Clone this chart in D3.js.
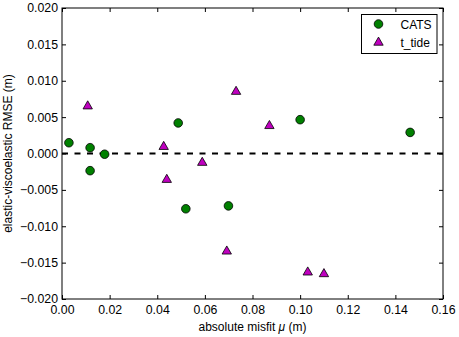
<!DOCTYPE html>
<html>
<head>
<meta charset="utf-8">
<script src="https://cdn.jsdelivr.net/npm/d3@7"></script>
<style>
  body { margin: 0; background: #fff; }
  text { font-family: "Liberation Sans", Arial, sans-serif; }
</style>
</head>
<body>
<script>
// CATS series (green circles)
var catsX = [0.0029, 0.0118, 0.0179, 0.0118, 0.0488, 0.0520, 0.0699, 0.1000, 0.1462];
var catsY = [0.00148, 0.0008, -0.0001, -0.00236, 0.0042, -0.0076, -0.0072, 0.00465, 0.0029];
// t_tide series (magenta triangles)
var tideX = [0.0108, 0.0427, 0.0589, 0.0440, 0.0692, 0.0731, 0.0871, 0.1032, 0.1100];
var tideY = [0.0065, 0.00093, -0.00126, -0.0036, -0.01345, 0.0085, 0.0038, -0.01633, -0.01656];
var xTicks = [0, 0.02, 0.04, 0.06, 0.08, 0.10, 0.12, 0.14, 0.16];
var yTicks = [-0.020, -0.015, -0.010, -0.005, 0, 0.005, 0.010, 0.015, 0.020];

var W = 459, H = 337;
var m = {left: 62, right: 16, top: 8, bottom: 38};
var iw = W - m.left - m.right, ih = H - m.top - m.bottom;

var svg = d3.select("body").append("svg")
    .attr("width", W)
    .attr("height", H);

var g = svg.append("g").attr("transform", "translate(" + m.left + "," + m.top + ")");

var x = d3.scaleLinear().domain([0, 0.16]).range([0, iw]);
var y = d3.scaleLinear().domain([-0.02, 0.02]).range([ih, 0]);

function minus(s) { return s.replace("-", "\u2212"); }

// axes with inward ticks on all four sides
var axB = g.append("g").attr("transform", "translate(0," + ih + ")")
    .call(d3.axisBottom(x).tickValues(xTicks).tickSizeInner(-4).tickSizeOuter(0).tickPadding(6)
        .tickFormat(function(d) { return d3.format(".2f")(d); }));
var axT = g.append("g")
    .call(d3.axisTop(x).tickValues(xTicks).tickSizeInner(-4).tickSizeOuter(0).tickFormat(""));
var axL = g.append("g")
    .call(d3.axisLeft(y).tickValues(yTicks).tickSizeInner(-4).tickSizeOuter(0).tickPadding(4)
        .tickFormat(function(d) { return minus(d3.format(".3f")(d)); }));
var axR = g.append("g").attr("transform", "translate(" + iw + ",0)")
    .call(d3.axisRight(y).tickValues(yTicks).tickSizeInner(-4).tickSizeOuter(0).tickFormat(""));

[axB, axT, axL, axR].forEach(function(a) {
    a.select(".domain").remove();
    a.selectAll("line").attr("stroke", "#000");
    a.selectAll("text").attr("font-size", 12.3).attr("fill", "#000")
        .style("font-family", '"Liberation Sans", Arial, sans-serif');
});

// zero line
g.append("line")
    .attr("x1", 0).attr("x2", iw)
    .attr("y1", y(0)).attr("y2", y(0))
    .attr("stroke", "#000").attr("stroke-width", 1.8)
    .attr("stroke-dasharray", "6,6.5");

var catsData = catsX.map(function(d, i) { return {x: d, y: catsY[i]}; });
var tideData = tideX.map(function(d, i) { return {x: d, y: tideY[i]}; });

g.selectAll("circle.cats")
    .data(catsData)
    .enter().append("circle")
        .attr("class", "cats")
        .attr("cx", function(d) { return x(d.x); })
        .attr("cy", function(d) { return y(d.y); })
        .attr("r", 4.3)
        .attr("fill", "#008000")
        .attr("stroke", "#000").attr("stroke-width", 0.8);

var tri = d3.symbol().type(d3.symbolTriangle).size(38);
g.selectAll("path.tide")
    .data(tideData)
    .enter().append("path")
        .attr("class", "tide")
        .attr("d", tri)
        .attr("transform", function(d) { return "translate(" + x(d.x) + "," + y(d.y) + ")"; })
        .attr("fill", "#bf00bf")
        .attr("stroke", "#000").attr("stroke-width", 0.8);

// frame
g.append("rect")
    .attr("width", iw).attr("height", ih)
    .attr("fill", "none").attr("stroke", "#000").attr("stroke-width", 1);

// legend
var lg = svg.append("g").attr("transform", "translate(361.5,14.5)");
lg.append("rect").attr("width", 75.5).attr("height", 39)
    .attr("fill", "#fff").attr("stroke", "#000").attr("stroke-width", 1);
lg.append("circle").attr("cx", 17).attr("cy", 9.5).attr("r", 4.3)
    .attr("fill", "#008000").attr("stroke", "#000").attr("stroke-width", 0.8);
lg.append("path").attr("d", tri).attr("transform", "translate(17,28)")
    .attr("fill", "#bf00bf").attr("stroke", "#000").attr("stroke-width", 0.8);
lg.append("text").attr("x", 39).attr("y", 14).attr("font-size", 12).text("CATS");
lg.append("text").attr("x", 39).attr("y", 32).attr("font-size", 12).text("t_tide");

// axis labels
svg.append("text")
    .attr("x", m.left + iw / 2).attr("y", 331)
    .attr("text-anchor", "middle").attr("font-size", 12)
    .html('absolute misfit <tspan font-style="italic">\u03bc</tspan> (m)');
svg.append("text")
    .attr("transform", "translate(12," + (m.top + ih / 2) + ") rotate(-90)")
    .attr("text-anchor", "middle").attr("font-size", 12)
    .text("elastic-viscoelastic RMSE (m)");
</script>
</body>
</html>
